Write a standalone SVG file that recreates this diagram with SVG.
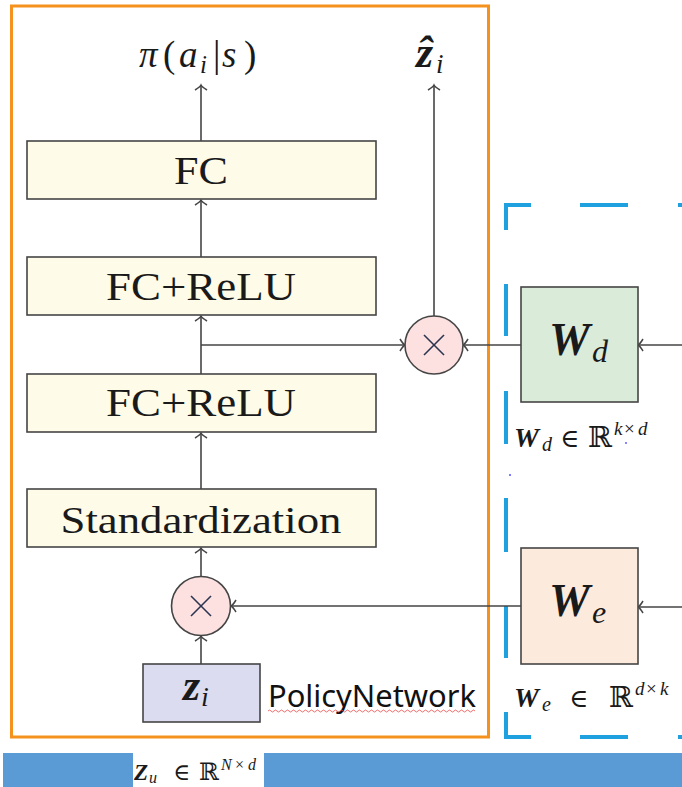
<svg xmlns="http://www.w3.org/2000/svg" width="682" height="787" viewBox="0 0 682 787">
<style>
.box{stroke:#454545;stroke-width:1.6}
.fcbox{fill:#fefbe8}
.lbl{font-family:"Liberation Serif","DejaVu Serif",serif;fill:#1a1a1a;text-anchor:middle}
.math{font-family:"Liberation Serif","DejaVu Serif",serif;fill:#1a1a1a}
.it{font-style:italic}
.bi{font-style:italic;font-weight:bold}
.conn line{stroke:#454545;stroke-width:1.6;fill:none}
.blue{stroke:#1ea1de;stroke-width:4}
.mul{fill:#fde0e0;stroke:#454545;stroke-width:1.6}
.x{stroke:#2a3550;stroke-width:1.6}
</style>
<defs>
<marker id="ah" markerUnits="userSpaceOnUse" markerWidth="16" markerHeight="16" refX="0" refY="0" viewBox="-9 -8 12 16" orient="auto">
<path d="M-5,-6 Q-2,-1 0,0 Q-2,1 -5,6" fill="none" stroke="#454545" stroke-width="1.5"/>
</marker>
</defs>
<rect width="682" height="787" fill="#ffffff"/>

<g id="policy-frame">
<rect x="11.5" y="6" width="477" height="731" fill="none" stroke="#f5921e" stroke-width="3"/>
</g>

<g id="param-frame">
<line class="blue" x1="506" y1="205" x2="531" y2="205"/>
<line class="blue" x1="580" y1="205" x2="628" y2="205"/>
<line class="blue" x1="678" y1="205" x2="682" y2="205"/>
<line class="blue" x1="506" y1="203" x2="506" y2="230"/>
<line class="blue" x1="506" y1="284" x2="506" y2="336"/>
<line class="blue" x1="506" y1="391" x2="506" y2="444"/>
<line class="blue" x1="506" y1="498" x2="506" y2="552"/>
<line class="blue" x1="506" y1="606" x2="506" y2="658"/>
<line class="blue" x1="506" y1="712" x2="506" y2="739"/>
<line class="blue" x1="506" y1="737" x2="531" y2="737"/>
<line class="blue" x1="580" y1="737" x2="628" y2="737"/>
<line class="blue" x1="678" y1="737" x2="682" y2="737"/>
</g>

<g id="bottom-bar">
<rect x="3" y="753" width="679" height="34" fill="#5b9bd5"/>
<rect x="133" y="753" width="131" height="34" fill="#ffffff"/>
<text class="math" y="780" font-size="23"><tspan class="bi" x="134">Z</tspan><tspan class="it" font-size="16" x="149" dy="3">u</tspan><tspan x="173" dy="-3">∈</tspan><tspan x="199" font-size="24">ℝ</tspan><tspan class="it" font-size="16" x="221" dy="-10">N</tspan><tspan font-size="16" x="235">×</tspan><tspan class="it" font-size="16" x="248">d</tspan></text>
</g>

<g id="conn" class="conn">
<line x1="201" y1="664" x2="201" y2="636" marker-end="url(#ah)"/>
<line x1="201" y1="576" x2="201" y2="548" marker-end="url(#ah)"/>
<line x1="201" y1="489" x2="201" y2="433" marker-end="url(#ah)"/>
<line x1="201" y1="374" x2="201" y2="316" marker-end="url(#ah)"/>
<line x1="201" y1="345" x2="405" y2="345" marker-end="url(#ah)"/>
<line x1="201" y1="257" x2="201" y2="200" marker-end="url(#ah)"/>
<line x1="201" y1="141" x2="201" y2="85" marker-end="url(#ah)"/>
<line x1="434" y1="316" x2="434" y2="85" marker-end="url(#ah)"/>
<line x1="521" y1="345" x2="463" y2="345" marker-end="url(#ah)"/>
<line x1="682" y1="345" x2="638" y2="345" marker-end="url(#ah)"/>
<line x1="521" y1="606" x2="231" y2="606" marker-end="url(#ah)"/>
<line x1="682" y1="607" x2="638" y2="607" marker-end="url(#ah)"/>
</g>

<g id="out-pi">
<text class="math" y="67" font-size="37"><tspan class="it" x="139">π</tspan><tspan x="163">(</tspan><tspan class="it" x="179">a</tspan><tspan class="it" font-size="25" x="200" dy="6">i</tspan><tspan x="213" dy="-6">|</tspan><tspan class="it" x="222">s</tspan><tspan x="244">)</tspan></text>
</g>
<g id="out-zhat">
<text class="math" y="67" font-size="44"><tspan class="bi" x="416">ẑ</tspan><tspan class="it" font-size="27" x="436" dy="6">i</tspan></text>
</g>

<g id="fc">
<rect class="box fcbox" x="27" y="141" width="349" height="58"/>
<text class="lbl" x="201" y="184" font-size="40" textLength="54" lengthAdjust="spacingAndGlyphs">FC</text>
</g>
<g id="fcrelu1">
<rect class="box fcbox" x="27" y="257" width="349" height="58"/>
<text class="lbl" x="201" y="300" font-size="40" textLength="190" lengthAdjust="spacingAndGlyphs">FC+ReLU</text>
</g>
<g id="fcrelu2">
<rect class="box fcbox" x="27" y="374" width="349" height="58"/>
<text class="lbl" x="201" y="416" font-size="40" textLength="190" lengthAdjust="spacingAndGlyphs">FC+ReLU</text>
</g>
<g id="standardization">
<rect class="box fcbox" x="27" y="489" width="349" height="58"/>
<text class="lbl" x="201" y="533" font-size="38" textLength="281" lengthAdjust="spacingAndGlyphs">Standardization</text>
</g>

<g id="mul-bottom">
<circle class="mul" cx="201" cy="606" r="29.5"/>
<line class="x" x1="191" y1="596" x2="211" y2="616"/>
<line class="x" x1="211" y1="596" x2="191" y2="616"/>
</g>
<g id="mul-top">
<circle class="mul" cx="434" cy="345" r="29"/>
<line class="x" x1="424" y1="335" x2="444" y2="355"/>
<line class="x" x1="444" y1="335" x2="424" y2="355"/>
</g>

<g id="zi">
<rect class="box" x="143" y="664" width="117" height="58" fill="#dcdcf0"/>
<text class="math" y="700" font-size="44"><tspan class="bi" x="183">z</tspan><tspan class="it" font-size="28" x="201" dy="6">i</tspan></text>
</g>

<g id="policy-label">
<text x="268" y="707" font-family="'Noto Sans','Liberation Sans',sans-serif" font-size="30" fill="#111" textLength="208" lengthAdjust="spacingAndGlyphs">PolicyNetwork</text>
<path d="M268,711 q1.5,-2 3,0 t3,0 t3,0 t3,0 t3,0 t3,0 t3,0 t3,0 t3,0 t3,0 t3,0 t3,0 t3,0 t3,0 t3,0 t3,0 t3,0 t3,0 t3,0 t3,0 t3,0 t3,0 t3,0 t3,0 t3,0 t3,0 t3,0 t3,0 t3,0 t3,0 t3,0 t3,0 t3,0 t3,0 t3,0 t3,0 t3,0 t3,0 t3,0 t3,0 t3,0 t3,0 t3,0 t3,0 t3,0 t3,0 t3,0 t3,0 t3,0 t3,0 t3,0 t3,0 t3,0 t3,0 t3,0 t3,0 t3,0 t3,0 t3,0 t3,0 t3,0 t3,0 t3,0 t3,0 t3,0 t3,0 t3,0 t3,0 t3,0" fill="none" stroke="#e84a4a" stroke-width="0.8"/>
</g>

<g id="wd">
<rect class="box" x="521" y="287" width="117" height="115" fill="#dbebd9"/>
<text class="math" y="355" font-size="46"><tspan class="bi" x="549">W</tspan><tspan class="it" font-size="32" x="592" dy="7">d</tspan></text>
<text class="math" y="447" font-size="28"><tspan class="bi" x="514">W</tspan><tspan class="it" font-size="20" x="542" dy="4">d</tspan><tspan x="560" dy="-4" font-size="26">∈</tspan><tspan x="588" font-size="29">ℝ</tspan><tspan class="it" font-size="19" x="614" dy="-12">k</tspan><tspan font-size="19" x="624">×</tspan><tspan class="it" font-size="19" x="638">d</tspan></text>
<circle cx="626" cy="443" r="0.9" fill="#5050ff"/>
<circle cx="510" cy="475" r="1" fill="#5050ff"/>
</g>

<g id="we">
<rect class="box" x="521" y="548" width="117" height="116" fill="#fcebdd"/>
<text class="math" y="616" font-size="46"><tspan class="bi" x="549">W</tspan><tspan class="it" font-size="32" x="592" dy="7">e</tspan></text>
<text class="math" y="707" font-size="28"><tspan class="bi" x="514">W</tspan><tspan class="it" font-size="20" x="542" dy="4">e</tspan><tspan x="569" dy="-4" font-size="26">∈</tspan><tspan x="609" font-size="29">ℝ</tspan><tspan class="it" font-size="19" x="635" dy="-12">d</tspan><tspan font-size="19" x="646">×</tspan><tspan class="it" font-size="19" x="660">k</tspan></text>
</g>
</svg>
